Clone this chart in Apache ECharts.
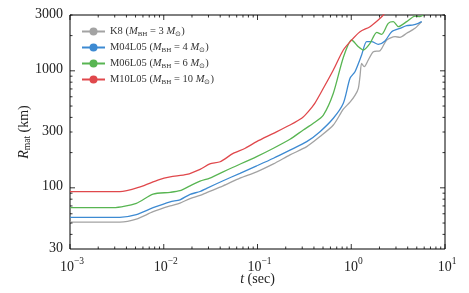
<!DOCTYPE html>
<html><head><meta charset="utf-8">
<script src="https://cdn.jsdelivr.net/npm/echarts@6/dist/echarts.min.js"></script>
<style>html,body{margin:0;padding:0;background:#fff}#c{width:469px;height:293px}</style>
</head><body><div id="c"></div>
<script>
// ---- data ----
const seriesNames = ['K8', 'M04L05', 'M06L05', 'M10L05'];
const bhMass = [3, 4, 6, 10];

const tK8 = [0.001, 0.0034, 0.0051, 0.0077, 0.0117, 0.0149, 0.0191, 0.0244, 0.0287, 0.043, 0.065, 0.098, 0.148, 0.222, 0.335, 0.464, 0.644, 0.823, 0.97, 1.1, 1.19, 1.24, 1.29, 1.377, 1.52, 1.72, 2.03, 2.39, 2.93, 3.31, 3.90, 4.79, 5.64];
const rK8 = [51, 51, 54, 62.5, 70, 74, 81, 86, 91, 104, 121, 137, 160, 191, 225, 274, 344, 470, 540, 620, 709, 900, 1159, 1084, 1237, 1457, 1486, 1834, 1958, 1935, 2094, 2307, 2631];

const tM04 = [0.001, 0.0034, 0.0051, 0.0077, 0.0117, 0.0149, 0.0191, 0.0244, 0.0287, 0.043, 0.065, 0.098, 0.148, 0.222, 0.335, 0.464, 0.644, 0.823, 0.97, 1.096, 1.29, 1.46, 1.65, 1.94, 2.29, 2.70, 3.31, 3.90, 4.59, 5.19, 5.64];
const rM04 = [56, 56, 59, 67.6, 76, 79, 88, 93, 99, 115, 133, 154, 179, 210, 248, 302, 393, 528, 863, 983, 1365, 1775, 1775, 1686, 1800, 2160, 2307, 2432, 2466, 2547, 2631];

const tM06 = [0.001, 0.0029, 0.0051, 0.0077, 0.0117, 0.0149, 0.0191, 0.0244, 0.031, 0.043, 0.055, 0.098, 0.148, 0.222, 0.308, 0.394, 0.504, 0.644, 0.823, 1.01, 1.19, 1.345, 1.585, 1.87, 2.11, 2.48, 2.81, 3.18, 3.90, 4.79, 5.41, 5.87];
const rM06 = [67.6, 67.6, 73.7, 88.5, 91.5, 94.5, 104, 114, 121, 137, 150, 185, 218, 260, 312, 356, 419, 643, 1300, 1834, 1608, 1506, 1718, 2133, 2052, 2547, 2631, 2383, 2631, 2940, 2905, 3000];

const tM10 = [0.001, 0.0034, 0.0056, 0.0088, 0.0117, 0.0176, 0.0244, 0.031, 0.040, 0.055, 0.074, 0.098, 0.148, 0.222, 0.296, 0.348, 0.41, 0.504, 0.644, 0.823, 1.01, 1.24, 1.585, 1.94, 2.2, 2.5];
const rM10 = [92.7, 92.7, 102, 117, 124, 130, 144, 160, 167, 197, 218, 248, 292, 344, 393, 448, 530, 709, 1016, 1506, 1834, 2160, 2383, 2718, 3000, 3400];

const xMajorTicks = [0.001, 0.01, 0.1, 1, 10];
const xTickExponents = ['−3', '−2', '−1', '0', '1'];
const xMinorTicks = [];
[0.001, 0.01, 0.1, 1].forEach(d => { for (let k = 2; k <= 9; k++) xMinorTicks.push(+(d * k).toPrecision(3)); });
const yMajorTicks = [100, 1000];
const yMinorTicks = [40, 50, 60, 70, 80, 90, 200, 300, 400, 500, 600, 700, 800, 900, 2000, 3000];
const yTickLabels = [30, 100, 300, 1000, 3000];

// ---- styling ----
const colors = ['#a3a3a3', '#3d8ad2', '#58b552', '#e0484c'];
const FONT = 'Liberation Serif';
const X_MIN = 0.001, X_MAX = 10, Y_MIN = 30, Y_MAX = 3000;

function zip(t, r) { return t.map((v, i) => [v, r[i]]); }
const dataSets = [zip(tK8, rK8), zip(tM04, rM04), zip(tM06, rM06), zip(tM10, rM10)];

function tickSeries(values, axis, len) {
  return {
    type: 'custom', silent: true, clip: false, z: 5,
    data: values.map(v => axis === 'x' ? [v, Y_MIN] : [X_MIN, v]),
    renderItem(params, api) {
      const cs = params.coordSys;
      const p = api.coord([api.value(0), api.value(1)]);
      const st = { stroke: '#000', lineWidth: 0.8 };
      if (axis === 'x') {
        return { type: 'group', children: [
          { type: 'line', shape: { x1: p[0], y1: cs.y + cs.height, x2: p[0], y2: cs.y + cs.height - len }, style: st },
          { type: 'line', shape: { x1: p[0], y1: cs.y, x2: p[0], y2: cs.y + len }, style: st }
        ] };
      }
      return { type: 'group', children: [
        { type: 'line', shape: { x1: cs.x, y1: p[1], x2: cs.x + len, y2: p[1] }, style: st },
        { type: 'line', shape: { x1: cs.x + cs.width, y1: p[1], x2: cs.x + cs.width - len, y2: p[1] }, style: st }
      ] };
    }
  };
}

const xLabelSeries = {
  type: 'custom', silent: true, clip: false, z: 5,
  data: xMajorTicks.map((v, i) => [v, Y_MIN, i]),
  renderItem(params, api) {
    const cs = params.coordSys;
    const p = api.coord([api.value(0), api.value(1)]);
    const e = xTickExponents[api.value(2)];
    return { type: 'text', x: p[0] + 2, y: cs.y + cs.height + 5,
      style: { text: '{b|10}{p|' + e + '}', align: 'center', verticalAlign: 'top', fill: '#222',
        rich: { b: { fontFamily: FONT, fontSize: 14, fill: '#222', padding: [6, 0, 0, 0] },
                p: { fontFamily: FONT, fontSize: 9.5, fill: '#222', padding: [0, 0, 6, 0] } } } };
  }
};

const yLabelSeries = {
  type: 'custom', silent: true, clip: false, z: 5,
  data: yTickLabels.map(v => [X_MIN, v]),
  renderItem(params, api) {
    const cs = params.coordSys;
    const p = api.coord([api.value(0), api.value(1)]);
    return { type: 'text', x: cs.x - 7, y: p[1] - 1,
      style: { text: String(api.value(1)), align: 'right', verticalAlign: 'middle', fill: '#222',
        font: '14px "' + FONT + '"' } };
  }
};

function legendText(name) {
  const i = seriesNames.indexOf(name);
  return '{n|' + name + ' (}{i|M}{s|BH}{n| = ' + bhMass[i] + ' }{i|M}{s|⊙}{n|)}';
}

const chart = echarts.init(document.getElementById('c'), null, { renderer: 'canvas' });
chart.setOption({
  animation: false,
  backgroundColor: '#fff',
  color: colors,
  grid: { left: 70, top: 15, width: 375, height: 234, show: true, borderColor: '#000', borderWidth: 1, containLabel: false },
  legend: {
    data: seriesNames, orient: 'vertical', left: 76, top: 21,
    itemWidth: 23, itemHeight: 10, itemGap: 4.5,
    formatter: legendText,
    textStyle: { fontFamily: FONT, fontSize: 10.5, color: '#333',
      rich: { n: { fontFamily: FONT, fontSize: 10.5, color: '#333' },
              i: { fontFamily: FONT, fontSize: 10.5, fontStyle: 'italic', color: '#333' },
              s: { fontFamily: FONT, fontSize: 7, color: '#333', padding: [5, 0, 0, 0] } } }
  },
  xAxis: {
    type: 'log', logBase: 10, min: X_MIN, max: X_MAX,
    axisLine: { show: false }, axisTick: { show: false }, axisLabel: { show: false }, splitLine: { show: false },
    name: '{i|t} (sec)', nameLocation: 'middle', nameGap: 23,
    nameTextStyle: { fontFamily: FONT, fontSize: 14, color: '#222',
      rich: { i: { fontFamily: FONT, fontSize: 14, fontStyle: 'italic', color: '#222' } } }
  },
  yAxis: {
    type: 'log', logBase: 10, min: Y_MIN, max: Y_MAX,
    axisLine: { show: false }, axisTick: { show: false }, axisLabel: { show: false }, splitLine: { show: false },
    name: '{i|R}{s|mat} (km)', nameLocation: 'middle', nameGap: 38,
    nameTextStyle: { fontFamily: FONT, fontSize: 14, color: '#222',
      rich: { i: { fontFamily: FONT, fontSize: 14, fontStyle: 'italic', color: '#222' },
              s: { fontFamily: FONT, fontSize: 9.5, color: '#222', padding: [6, 0, 0, 0] } } }
  },
  series: seriesNames.map((n, i) => ({
    name: n, type: 'line', data: dataSets[i], showSymbol: false, symbol: 'none',
    smooth: 0.25, lineStyle: { width: 1.3, color: colors[i] }, z: 3, clip: true
  })).concat([
    tickSeries(xMajorTicks, 'x', 5),
    tickSeries(xMinorTicks, 'x', 2.5),
    tickSeries(yMajorTicks, 'y', 5),
    tickSeries(yMinorTicks, 'y', 2.5),
    xLabelSeries, yLabelSeries
  ])
});
</script></body></html>
